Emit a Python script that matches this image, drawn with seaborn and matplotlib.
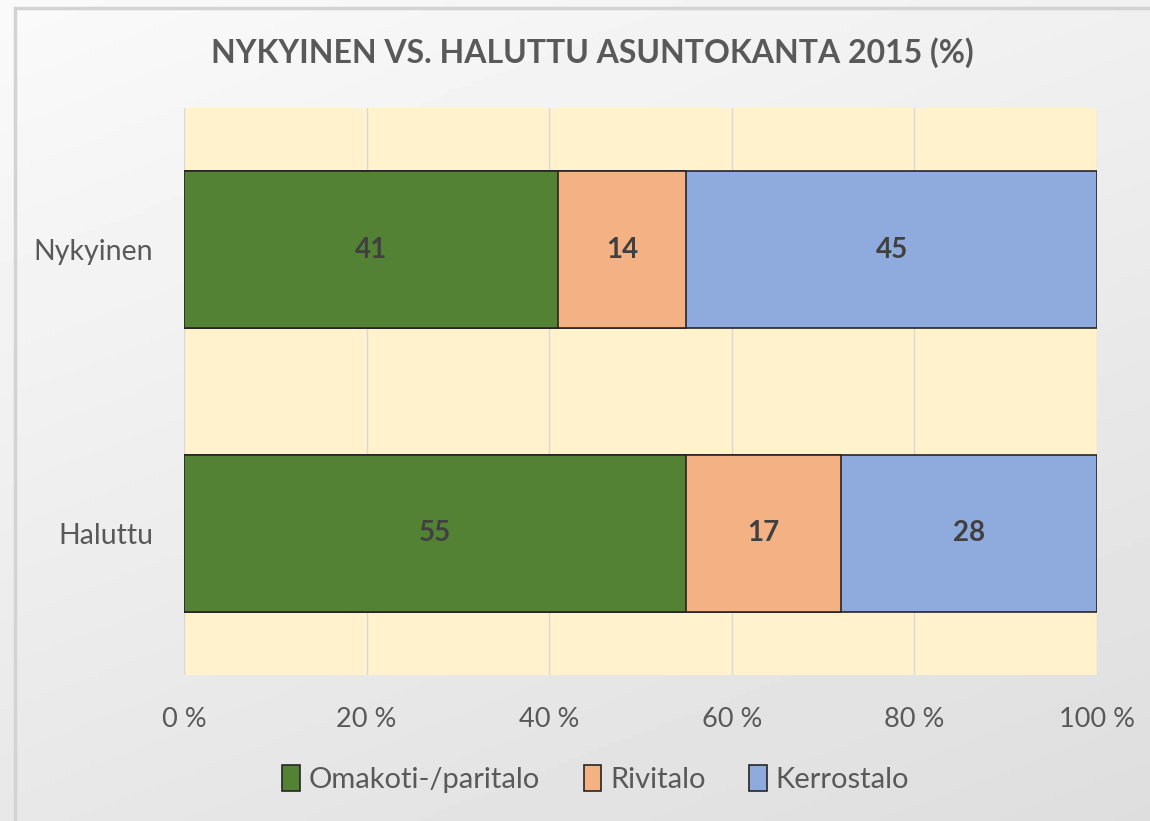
import numpy as np
import pandas as pd
import matplotlib
matplotlib.use("Agg")
import matplotlib.pyplot as plt
import seaborn as sns
from matplotlib.patches import Patch, Rectangle

categories = ["Nykyinen", "Haluttu"]
series_names = ["Omakoti-/paritalo", "Rivitalo", "Kerrostalo"]
omakoti = [41, 55]
rivitalo = [14, 17]
kerrostalo = [45, 28]
tick_values = [0, 20, 40, 60, 80, 100]
tick_labels = ["0 %", "20 %", "40 %", "60 %", "80 %", "100 %"]
title = "NYKYINEN VS. HALUTTU ASUNTOKANTA 2015 (%)"

colors = ["#548235", "#F4B183", "#8FAADC"]

sns.set_theme(style="white")
plt.rcParams["font.family"] = ["Lato", "DejaVu Sans"]

fig = plt.figure(figsize=(11.5, 8.21), dpi=100)

# background gradient
bg = fig.add_axes([0, 0, 1, 1], zorder=-10)
yy, xx = np.mgrid[0:1:200j, 0:1:200j]
g = 0.98 - 0.11 * (0.65 * yy + 0.35 * xx)
bg.imshow(g, cmap="gray", vmin=0, vmax=1, aspect="auto", extent=[0, 1, 0, 1], origin="upper")
bg.add_patch(Rectangle((15 / 1150, -0.01), 1.1, 1 - 8 / 821 + 0.01, fill=False,
                       edgecolor="#D3D3D3", linewidth=2.5, transform=bg.transAxes))
bg.set_axis_off()

ax = fig.add_axes([184 / 1150, 1 - 675 / 821, (1097 - 184) / 1150, (675 - 108) / 821])
ax.set_facecolor("#FFF2CC")

df = pd.DataFrame({"category": categories, "omakoti": omakoti,
                   "rivitalo": rivitalo, "kerrostalo": kerrostalo})
df["c1"] = df["omakoti"]
df["c2"] = df["omakoti"] + df["rivitalo"]
df["c3"] = df["c2"] + df["kerrostalo"]

for col, color in zip(["c3", "c2", "c1"], colors[::-1]):
    sns.barplot(data=df, y="category", x=col, orient="h", color=color, width=0.555,
                edgecolor="#262626", linewidth=1.2, saturation=1, ax=ax, zorder=3)

for i, row in df.iterrows():
    starts = [0, row["c1"], row["c2"]]
    for s, v in zip(starts, [row["omakoti"], row["rivitalo"], row["kerrostalo"]]):
        ax.text(s + v / 2, i, f"{v}", ha="center", va="center", fontsize=20,
                fontweight="bold", color="#404040", zorder=5)

ax.set_xlim(0, 100)
ax.set_ylim(1.5, -0.5)
ax.set_xticks(tick_values)
ax.set_xticklabels(tick_labels, fontsize=19.5, color="#595959")
ax.tick_params(axis="y", labelsize=20.5, labelcolor="#595959", pad=22, length=0)
ax.tick_params(axis="x", pad=23, length=0)
ax.set_xlabel("")
ax.set_ylabel("")
ax.grid(axis="x", color="#D9D9D9", linewidth=1, zorder=0)
ax.set_axisbelow(True)
for sp in ax.spines.values():
    sp.set_visible(False)

fig.text(0.515, 1 - 53 / 821, title, ha="center", va="center", fontsize=23,
         fontweight="bold", color="#595959")

handles = [Patch(facecolor=c, edgecolor="#262626", linewidth=1.2) for c in colors]
fig.legend(handles, series_names, loc="center", bbox_to_anchor=(0.518, 1 - 779 / 821),
           ncol=3, frameon=False, fontsize=21, labelcolor="#595959",
           handlelength=0.6, handleheight=1.0, handletextpad=0.3, columnspacing=1.5)

fig.savefig("out.png", dpi=100)
